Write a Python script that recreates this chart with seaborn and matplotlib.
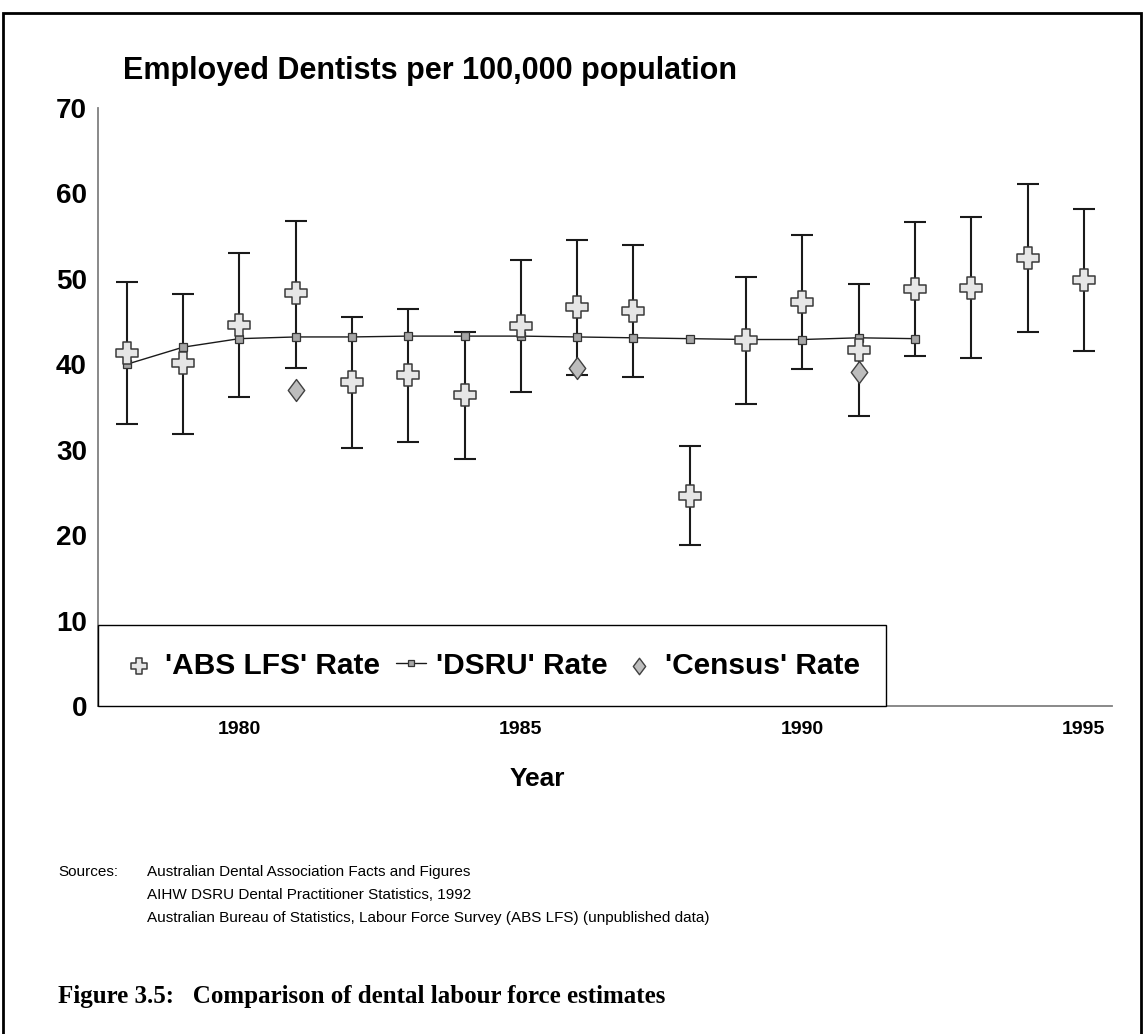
import numpy as np
import pandas as pd
import matplotlib
matplotlib.use("Agg")
import matplotlib.pyplot as plt
import matplotlib.patches as mpatches
from matplotlib.markers import MarkerStyle
from matplotlib.path import Path
from matplotlib.transforms import Affine2D
import seaborn as sns

# Data
abs_years = [1978, 1979, 1980, 1981, 1982, 1983, 1984, 1985, 1986,
             1987, 1988, 1989, 1990, 1991, 1992, 1993, 1994, 1995]
abs_rate = [41.3, 40.2, 44.6, 48.3, 37.9, 38.7, 36.4, 44.5, 46.7,
            46.2, 24.6, 42.8, 47.3, 41.7, 48.8, 48.9, 52.5, 49.9]
abs_low = [33.0, 31.8, 36.2, 39.6, 30.2, 30.9, 28.9, 36.7, 38.8,
           38.5, 18.9, 35.3, 39.5, 34.0, 41.0, 40.7, 43.8, 41.6]
abs_high = [49.6, 48.2, 53.0, 56.8, 45.5, 46.5, 43.8, 52.2, 54.5,
            54.0, 30.4, 50.2, 55.1, 49.4, 56.7, 57.2, 61.1, 58.2]

dsru_years = [1978, 1979, 1980, 1981, 1982, 1983, 1984, 1985,
              1986, 1987, 1988, 1989, 1990, 1991, 1992]
dsru_rate = [40.0, 42.0, 43.0, 43.2, 43.2, 43.3, 43.3, 43.3,
             43.2, 43.1, 43.0, 42.9, 42.9, 43.1, 43.0]

census_years = [1981, 1986, 1991]
census_rate = [37.0, 39.6, 39.1]

sources = ["Australian Dental Association Facts and Figures",
           "AIHW DSRU Dental Practitioner Statistics, 1992",
           "Australian Bureau of Statistics, Labour Force Survey (ABS LFS) (unpublished data)"]

sns.set_style("white")
plt.rcParams['font.family'] = ['Liberation Sans', 'DejaVu Sans']
plt.rcParams['text.color'] = 'black'
plt.rcParams['xtick.color'] = 'black'
plt.rcParams['ytick.color'] = 'black'
plt.rcParams['axes.labelcolor'] = 'black'

W, H = 1144, 1034
fig = plt.figure(figsize=(W / 100, H / 100), dpi=100)
ax = fig.add_axes([98 / W, 1 - 706 / H, (1112 - 98) / W, (706 - 108) / H])

# chunky plus marker (arms a bit wider than matplotlib's 'P')
a = 0.2
plus_path = Path([(-a, -0.5), (a, -0.5), (a, -a), (0.5, -a), (0.5, a), (a, a),
                  (a, 0.5), (-a, 0.5), (-a, a), (-0.5, a), (-0.5, -a), (-a, -a),
                  (-a, -0.5)], closed=True)
plus_marker = MarkerStyle(plus_path)
diamond_marker = MarkerStyle('D', transform=Affine2D().scale(0.75, 1.0))

df_abs = pd.DataFrame({'year': abs_years, 'rate': abs_rate,
                       'low': abs_low, 'high': abs_high})
yerr = np.vstack([df_abs['rate'] - df_abs['low'], df_abs['high'] - df_abs['rate']])

# error bars first, then the series on top
ax.errorbar(df_abs['year'], df_abs['rate'], yerr=yerr, fmt='none',
            ecolor='#1a1a1a', elinewidth=1.5, capsize=8, capthick=1.5, zorder=2)

sns.lineplot(x=dsru_years, y=dsru_rate, ax=ax, color='#1a1a1a', linewidth=1.0,
             marker='s', markersize=5.5, markerfacecolor='#a6a6a6',
             markeredgecolor='#333333', markeredgewidth=0.9,
             label="'DSRU' Rate", errorbar=None, zorder=3)

sns.scatterplot(x=census_years, y=census_rate, ax=ax, marker=diamond_marker, s=125,
                color='#bdbdbd', edgecolor='#404040', linewidth=1.0,
                label="'Census' Rate", zorder=4)

sns.scatterplot(x=abs_years, y=abs_rate, ax=ax, marker=plus_marker, s=230,
                color='#e6e6e6', edgecolor='#3a3a3a', linewidth=1.1,
                label="'ABS LFS' Rate", zorder=5)

ax.set_xlim(1977.49, 1995.5)
ax.set_ylim(0, 70)
ax.set_xticks([1980, 1985, 1990, 1995])
ax.set_yticks(range(0, 71, 10))
ax.tick_params(axis='y', length=0, pad=8, labelsize=20)
ax.tick_params(axis='x', length=0, pad=11, labelsize=14)
for lab in ax.get_xticklabels() + ax.get_yticklabels():
    lab.set_fontweight('bold')
for s in ['top', 'right']:
    ax.spines[s].set_visible(False)
for s in ['left', 'bottom']:
    ax.spines[s].set_color('#808080')
    ax.spines[s].set_linewidth(1.3)

ax.set_xlabel('Year', fontsize=19, fontweight='bold')
ax.xaxis.set_label_coords(0.433, -0.102)
ax.set_ylabel('')

handles, labels = ax.get_legend_handles_labels()
order = [labels.index("'ABS LFS' Rate"), labels.index("'DSRU' Rate"),
         labels.index("'Census' Rate")]
leg = ax.legend([handles[i] for i in order], [labels[i] for i in order],
                loc='lower left', bbox_to_anchor=(0, 0), ncol=3,
                frameon=True, fancybox=False, edgecolor='black', framealpha=1,
                borderpad=0.88, handlelength=1.0, handletextpad=0.35,
                columnspacing=0.55, markerscale=0.75, borderaxespad=0,
                prop={'weight': 'bold', 'size': 21.5})
leg.get_frame().set_linewidth(1.0)
leg.set_zorder(10)

fig.text(123 / W, 1 - 79 / H, 'Employed Dentists per 100,000 population',
         fontsize=22, fontweight='bold', va='baseline', ha='left')

fig.text(58 / W, 1 - 876 / H, 'Sources:', fontsize=11, va='baseline')
for i, line in enumerate(sources):
    fig.text(147 / W, 1 - (876 + 23 * i) / H, line, fontsize=11, va='baseline')

fig.text(58 / W, 1 - 1003 / H,
         'Figure 3.5:   Comparison of dental labour force estimates',
         fontsize=18, fontweight='bold', family=['Liberation Serif', 'DejaVu Serif'],
         va='baseline')

border = mpatches.Rectangle((3 / W, -0.1), 1138 / W, (H - 13) / H + 0.1,
                            transform=fig.transFigure, fill=False,
                            edgecolor='black', linewidth=2, clip_on=False)
fig.add_artist(border)

fig.savefig('out.png', dpi=100)
